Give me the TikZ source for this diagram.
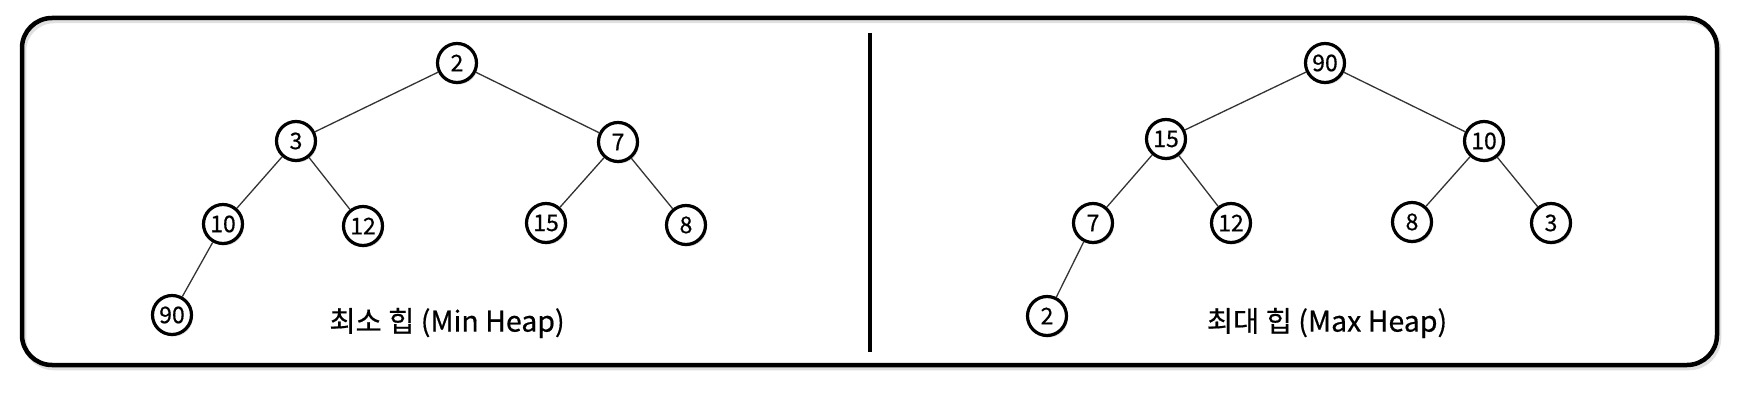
\documentclass[tikz,border=0pt]{standalone}
\usepackage{fontspec}
\setmainfont{Noto Sans CJK KR}
\newfontfamily\medfont[FakeBold=0.5]{Noto Sans CJK KR}
\usetikzlibrary{shapes.geometric,shadows}
\begin{document}
\begin{tikzpicture}[x=1pt,y=-1pt,
  hnode/.style={circle,draw=black,line width=3.2pt,fill=white,minimum size=39pt,inner sep=0pt,font=\medfont\fontsize{23}{23}\selectfont,
    drop shadow={shadow xshift=1.5pt,shadow yshift=-2pt,fill=black!25,opacity=0.6}},
  edge/.style={draw=black!80,line width=1.3pt},
  caption/.style={font=\medfont\fontsize{28.5}{28.5}\selectfont},
]
\useasboundingbox (0,0) rectangle (1745,401);
\fill[white] (0,0) rectangle (1745,401);
% outer frame
\draw[black!12,line width=4.5pt,rounded corners=30pt] (24,21) rectangle (1719,368);
\draw[black,line width=4.5pt,rounded corners=30pt] (22,18) rectangle (1717,365);
% divider
\draw[black,line width=4pt] (870,33) coordinate (dt) -- (870,352) coordinate (db);
% Min heap
\node[hnode] (a2)  at (457,63)  {2};
\node[hnode] (a3)  at (296,141) {3};
\node[hnode] (a7)  at (618,142) {7};
\node[hnode] (a10) at (223,224) {10};
\node[hnode] (a12) at (363,226) {12};
\node[hnode] (a15) at (546,223) {15};
\node[hnode] (a8)  at (686,225) {8};
\node[hnode] (a90) at (172,315) {90};
\path[edge] (a2) -- (a3) (a2) -- (a7) (a3) -- (a10) (a3) -- (a12) (a7) -- (a15) (a7) -- (a8) (a10) -- (a90);
\node[caption] (ca) at (447,323) {최소 힙 (Min Heap)};
% Max heap
\node[hnode] (b90) at (1325,63)  {90};
\node[hnode] (b15) at (1166,139) {15};
\node[hnode] (b10) at (1484,141) {10};
\node[hnode] (b7)  at (1093,223) {7};
\node[hnode] (b12) at (1231,223) {12};
\node[hnode] (b8)  at (1412,222) {8};
\node[hnode] (b3)  at (1551,223) {3};
\node[hnode] (b2)  at (1047,316) {2};
\path[edge] (b90) -- (b15) (b90) -- (b10) (b15) -- (b7) (b15) -- (b12) (b10) -- (b8) (b10) -- (b3) (b7) -- (b2);
\node[caption] (cb) at (1327,323) {최대 힙 (Max Heap)};
\end{tikzpicture}
\end{document}
